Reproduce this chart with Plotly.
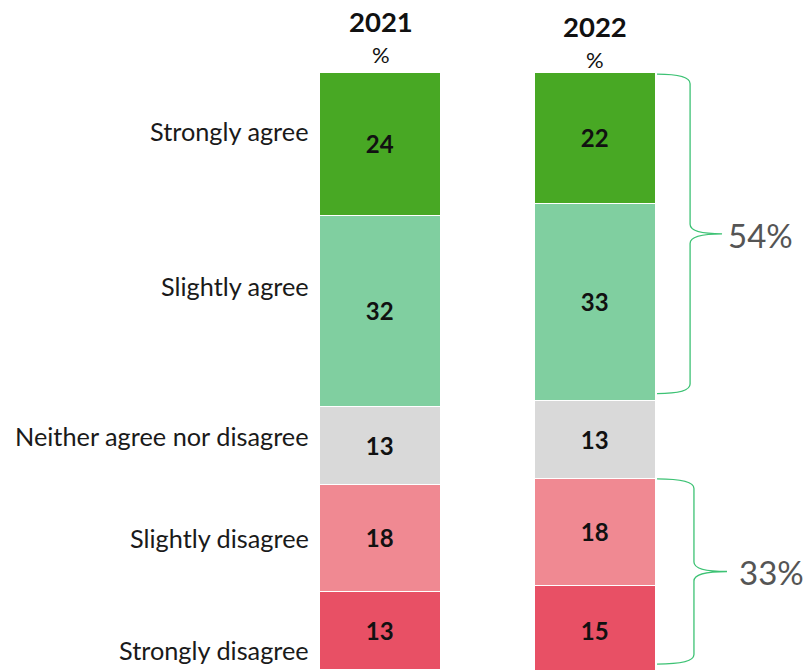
import plotly.graph_objects as go

# Survey responses (%) by year
categories = ["Strongly agree", "Slightly agree", "Neither agree nor disagree",
              "Slightly disagree", "Strongly disagree"]
years = ["2021", "2022"]
values_2021 = [24, 32, 13, 18, 13]
values_2022 = [22, 33, 13, 18, 15]
net_agree_2022 = 54
net_disagree_2022 = 33

colors = ["#48A824", "#80CFA0", "#D9D9D9", "#F08992", "#E85065"]
label_y = [9.7, 35.7, 60.8, 77.9, 96.6]   # vertical placement of category labels

FONT = "Lato"
xpos = [0, 1]
bar_w = 0.564

fig = go.Figure()
for i, cat in enumerate(categories):
    vals = [values_2021[i], values_2022[i]]
    fig.add_trace(go.Bar(
        x=xpos, y=vals, width=bar_w, name=cat,
        marker=dict(color=colors[i], line=dict(color="white", width=1.5)),
        text=[str(v) for v in vals], textposition="inside",
        insidetextanchor="middle", textangle=0,
        textfont=dict(family=FONT, size=24, color="#111111", weight="bold"),
        hoverinfo="skip", showlegend=False,
    ))

annotations = []
# Category labels on the left
for cat, yy in zip(categories, label_y):
    annotations.append(dict(x=-0.328, y=yy, xref="x", yref="y", text=cat,
                            showarrow=False, xanchor="right", yanchor="middle",
                            font=dict(family=FONT, size=25.3, color="#1a1a1a")))


# header positions in paper units (plot area is 597 px tall starting 73 px from top)
def paper_y(px_from_top):
    return (670 - px_from_top) / 597.0


for xx, yr, dy in zip(xpos, years, [0, 5]):
    annotations.append(dict(x=xx, y=paper_y(22 + dy), xref="x", yref="paper",
                            text=f"<b>{yr}</b>", showarrow=False,
                            xanchor="center", yanchor="middle",
                            font=dict(family=FONT, size=27.5, color="#111111")))
    annotations.append(dict(x=xx, y=paper_y(54 + dy), xref="x", yref="paper",
                            text="%", showarrow=False,
                            xanchor="center", yanchor="middle",
                            font=dict(family=FONT, size=22, color="#111111")))


# Curly brackets summarising 2022 net agree / disagree
def brace(y0, y1, x0, xv, xt, d=1.6):
    ym = (y0 + y1) / 2
    return (f"M {x0},{y0} Q {xv},{y0} {xv},{y0 + d} "
            f"L {xv},{ym - d} Q {xv},{ym} {xt},{ym} "
            f"Q {xv},{ym} {xv},{ym + d} "
            f"L {xv},{y1 - d} Q {xv},{y1} {x0},{y1}")


shapes = [
    dict(type="path", xref="x", yref="y",
         path=brace(0.2, 53.7, 1.287, 1.441, 1.590),
         line=dict(color="#3DC274", width=1.3)),
    dict(type="path", xref="x", yref="y",
         path=brace(68.0, 99.0, 1.287, 1.459, 1.613),
         line=dict(color="#3DC274", width=1.3)),
]
annotations.append(dict(x=1.608, y=27.2, xref="x", yref="y",
                        text=f"{net_agree_2022}%", showarrow=False,
                        xanchor="left", yanchor="middle",
                        font=dict(family=FONT, size=33, color="#555555")))
annotations.append(dict(x=1.662, y=83.5, xref="x", yref="y",
                        text=f"{net_disagree_2022}%", showarrow=False,
                        xanchor="left", yanchor="middle",
                        font=dict(family=FONT, size=33, color="#555555")))

fig.update_layout(
    width=810, height=670,
    margin=dict(l=0, r=0, t=73, b=0),
    barmode="stack",
    bargap=0,
    plot_bgcolor="white", paper_bgcolor="white",
    xaxis=dict(range=[-1.776, 2.0], visible=False, fixedrange=True),
    yaxis=dict(range=[100, 0], visible=False, fixedrange=True),
    annotations=annotations,
    shapes=shapes,
)
fig.write_html("out.html")
